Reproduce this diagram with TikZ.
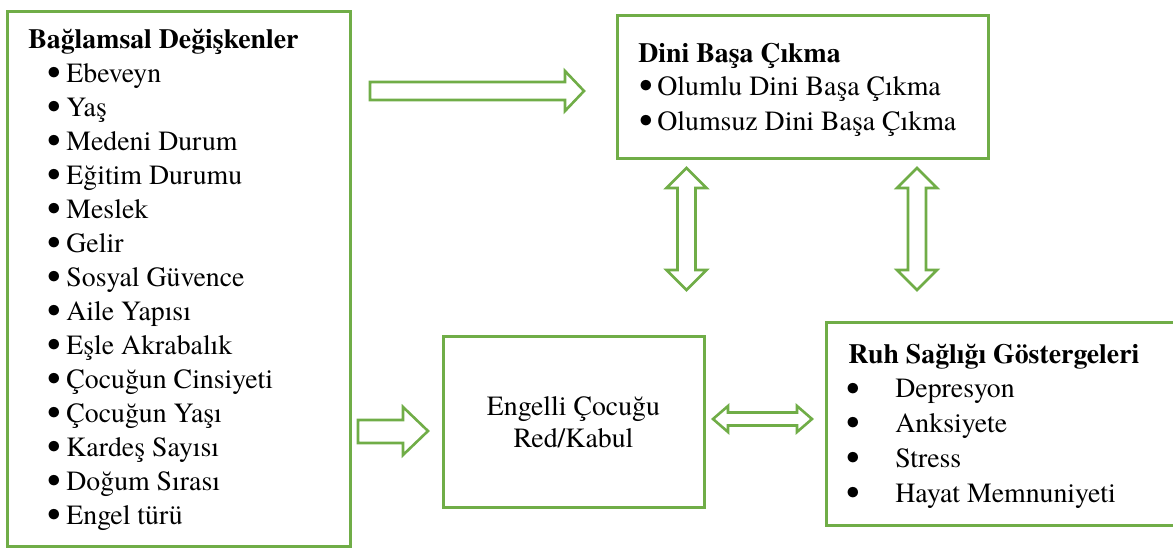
\documentclass[tikz,border=0pt]{standalone}
\usepackage{fontspec}
\usepackage{graphicx}
\IfFontExistsTF{texgyretermes-regular.otf}{%
  \setmainfont{texgyretermes}[Extension=.otf,UprightFont=*-regular,BoldFont=*-bold,ItalicFont=*-italic,BoldItalicFont=*-bolditalic]}{%
  \setmainfont{Liberation Serif}}
\definecolor{grn}{HTML}{70AD47}
\newcommand{\mybul}{\raisebox{-0.12em}{\scalebox{1.4}{\textbullet}}}
\newcommand{\bitem}[2]{\makebox[#1][l]{\mybul}#2}
\begin{document}
\begin{tikzpicture}[x=0.5pt,y=-0.5pt,
  box/.style={draw=grn, line width=1.5pt},
  blk/.style={draw=grn, line width=1.3pt, fill=white, line join=miter},
  txt/.style={inner sep=0pt, anchor=base west, font=\fontsize{13.9}{17}\selectfont},
  ttl/.style={txt, font=\fontsize{13.9}{17}\selectfont\bfseries}]
\clip (0,0) rectangle (1173,547);
\fill[white] (0,0) rectangle (1173,547);
% boxes
\draw[box] (7,11) rectangle (350,546);
\draw[box] (617,15) rectangle (988,158);
\draw[box] (443,336) rectangle (704,507);
\draw[box] (826,322) rectangle (1185,525);
% left box text
\node[ttl] (lt) at (28,48) {Bağlamsal Değişkenler};
\foreach \t [count=\i] in {Ebeveyn,Yaş,Medeni Durum,Eğitim Durumu,Meslek,Gelir,Sosyal Güvence,Aile Yapısı,Eşle Akrabalık,Çocuğun Cinsiyeti,Çocuğun Yaşı,Kardeş Sayısı,Doğum Sırası,Engel türü}{
  \node[txt] (li\i) at (47,48+34*\i) {\bitem{9.5pt}{\t}};
}
% Dini box text
\node[ttl] (dt) at (638,62) {Dini Başa Çıkma};
\node[txt] (d1) at (639,95) {\bitem{9pt}{Olumlu Dini Başa Çıkma}};
\node[txt] (d2) at (639,130) {\bitem{9pt}{Olumsuz Dini Başa Çıkma}};
% Engelli text
\node[txt, anchor=base] (e1) at (573.5,415) {Engelli Çocuğu};
\node[txt, anchor=base] (e2) at (573.5,447) {Red/Kabul};
% Ruh box text
\node[ttl] (rt) at (848,363) {Ruh Sağlığı Göstergeleri};
\foreach \t [count=\i] in {Depresyon,Anksiyete,Stress,Hayat Memnuniyeti}{
  \node[txt] (ri\i) at (846,363+34.75*\i) {\bitem{24.5pt}{\t}};
}
% block arrows
\draw[blk] (370,82) -- (565,82) -- (565,71) -- (584,91) -- (565,111) -- (565,100) -- (370,100) -- cycle;
\draw[blk] (358,420) -- (403,420) -- (403,407) -- (428,431) -- (403,455) -- (403,443) -- (358,443) -- cycle;
\foreach \cx in {686.5,917}{
  \draw[blk] (\cx,168) -- (\cx+20,188) -- (\cx+9,188) -- (\cx+9,270) -- (\cx+20,270) -- (\cx,290) -- (\cx-20,270) -- (\cx-9,270) -- (\cx-9,188) -- (\cx-20,188) -- cycle;
}
\draw[blk] (713,419) -- (728,406) -- (728,412.5) -- (797,412.5) -- (797,406) -- (812,419) -- (797,432) -- (797,425.5) -- (728,425.5) -- (728,432) -- cycle;
\end{tikzpicture}
\end{document}
